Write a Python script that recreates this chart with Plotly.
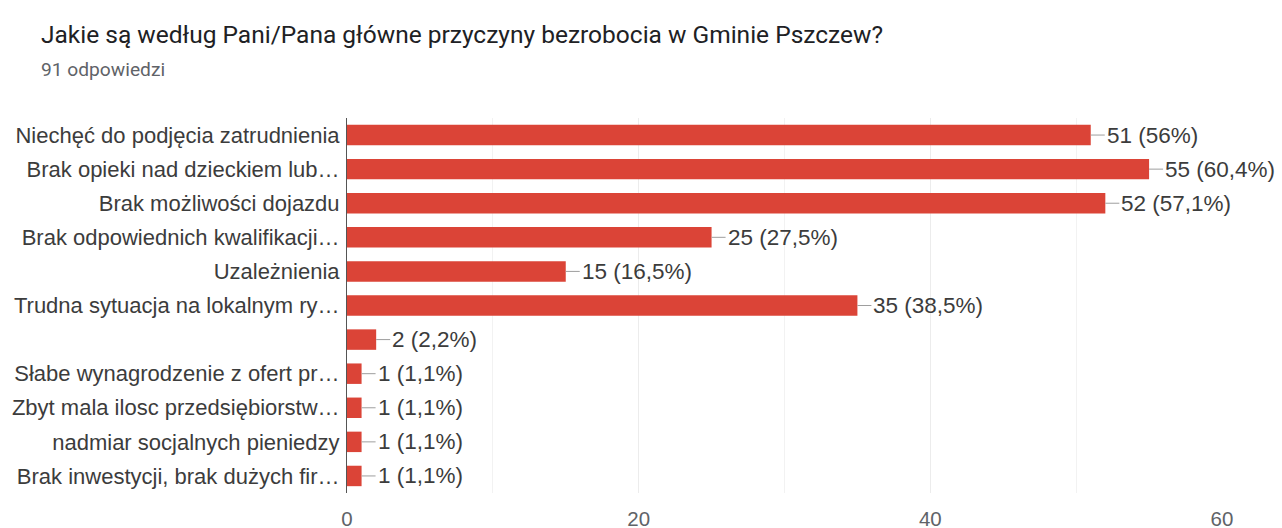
import plotly.graph_objects as go

title_text = "Jakie są według Pani/Pana główne przyczyny bezrobocia w Gminie Pszczew?"
subtitle_text = "91 odpowiedzi"
total = 91

categories = [
    "Niechęć do podjęcia zatrudnienia",
    "Brak opieki nad dzieckiem lub…",
    "Brak możliwości dojazdu",
    "Brak odpowiednich kwalifikacji…",
    "Uzależnienia",
    "Trudna sytuacja na lokalnym ry…",
    " ",
    "Słabe wynagrodzenie z ofert pr…",
    "Zbyt mala ilosc przedsiębiorstw…",
    "nadmiar socjalnych pieniedzy",
    "Brak inwestycji, brak dużych fir…",
]
values = [51, 55, 52, 25, 15, 35, 2, 1, 1, 1, 1]
tick_vals = [0, 20, 40, 60]


def fmt(v):
    p = round(v / total * 100, 1)
    s = f"{p:.1f}".rstrip("0").rstrip(".").replace(".", ",")
    return f"{v} ({s}%)"


labels = [fmt(v) for v in values]

RED = "#db4437"
TXT = "#3c3c3c"
W, H = 1282, 528
L, R, T, B = 347, 60, 118, 35
PW = W - L - R
PH = H - T - B

fig = go.Figure()
fig.add_trace(go.Bar(
    x=values, y=categories, orientation="h",
    marker=dict(color=RED, line=dict(width=0)),
    width=0.6, hoverinfo="skip",
))

for c, v, lab in zip(categories, values, labels):
    fig.add_annotation(
        x=v, y=c, xref="x", yref="y",
        text=lab, showarrow=True, arrowhead=0, arrowwidth=1,
        arrowcolor="#9e9e9e", ax=14, ay=0, standoff=0,
        xanchor="left", yanchor="middle",
        font=dict(family="Liberation Sans, Arial", size=22.5, color=TXT),
    )

fig.add_annotation(
    xref="paper", yref="paper", x=(40 - L) / PW, y=1 + (T - 35) / PH,
    text=title_text, showarrow=False, xanchor="left", yanchor="middle",
    font=dict(family="Roboto", size=24.5, color="#202124"), borderpad=0,
)
fig.add_annotation(
    xref="paper", yref="paper", x=(40 - L) / PW, y=1 + (T - 70) / PH,
    text=subtitle_text, showarrow=False, xanchor="left", yanchor="middle",
    font=dict(family="Roboto", size=19.2, color="#5f6368"), borderpad=0,
)

fig.update_layout(
    width=W, height=H,
    margin=dict(l=L, r=R, t=T, b=B),
    paper_bgcolor="white", plot_bgcolor="white",
    showlegend=False,
    bargap=0.4,
)
fig.update_xaxes(
    range=[0, 60], tickvals=tick_vals,
    showgrid=True, gridcolor="#ececec", gridwidth=1,
    minor=dict(dtick=10, showgrid=True, gridcolor="#f2f2f2"),
    zeroline=False, showline=False,
    ticks="", ticklabelstandoff=11, automargin=False,
    tickfont=dict(family="Liberation Sans, Arial", size=20.5, color="#5f6368"),
    fixedrange=True,
)
fig.update_yaxes(
    autorange="reversed", showgrid=False,
    showline=True, linecolor="#555555", linewidth=1,
    ticks="", ticklabelstandoff=2, automargin=False,
    tickfont=dict(family="Liberation Sans, Arial", size=22, color=TXT),
    fixedrange=True,
)

fig.write_html("out.html", config={"displayModeBar": False},
               post_script="document.body.style.margin='0';")
